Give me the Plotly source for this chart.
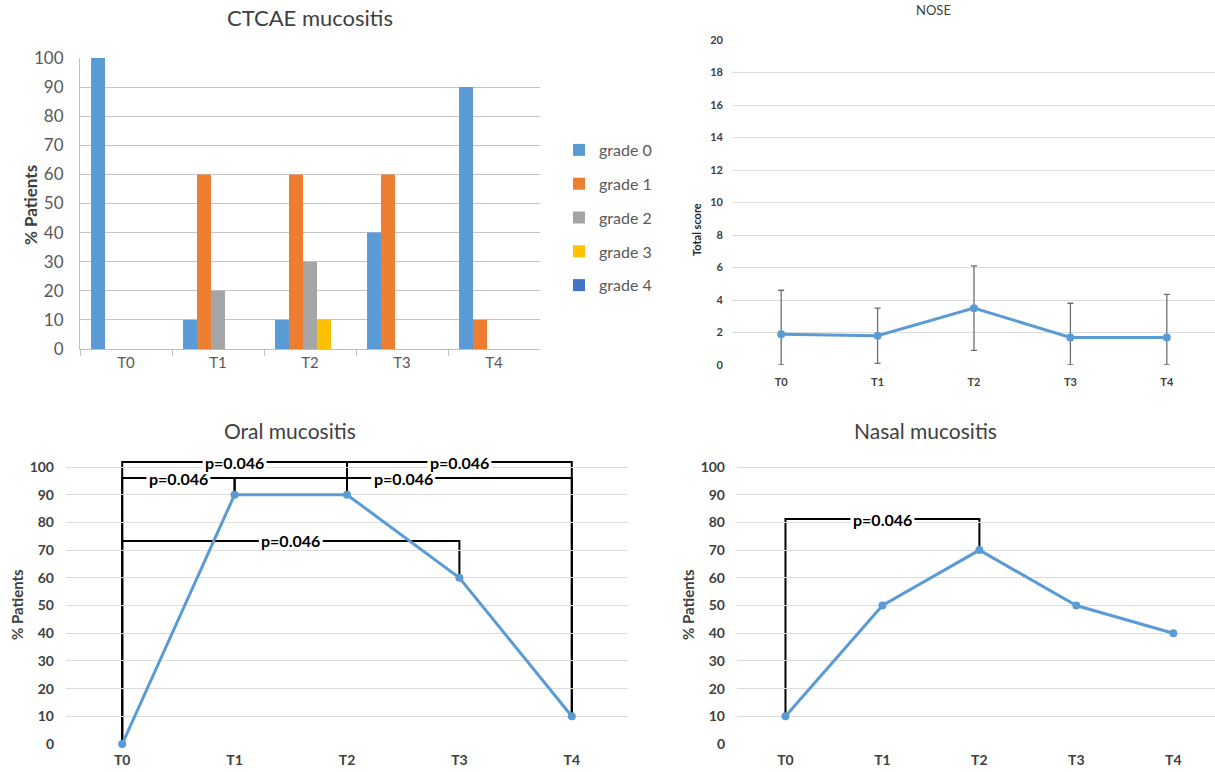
import plotly.graph_objects as go

W, H = 1215, 772

# ---------------- data ----------------
timepoints = ["T0", "T1", "T2", "T3", "T4"]
grade_names = ["grade 0", "grade 1", "grade 2", "grade 3", "grade 4"]
grade0_pct = [100, 10, 10, 40, 90]
grade1_pct = [0, 60, 60, 60, 10]
grade2_pct = [0, 20, 30, 0, 0]
grade3_pct = [0, 0, 10, 0, 0]
grade4_pct = [0, 0, 0, 0, 0]
grade_colors = ["#5B9BD5", "#ED7D31", "#A5A5A5", "#FFC000", "#4472C4"]

nose_mean = [1.9, 1.8, 3.5, 1.7, 1.7]
nose_sd = [2.7, 1.7, 2.6, 2.1, 2.65]

oral_pct = [0, 90, 90, 60, 10]
nasal_pct = [10, 50, 70, 50, 40]

# significance brackets: (from index, to index, bracket height, label)
oral_brackets = [(0, 2, 101.8, "p=0.046"), (2, 4, 101.8, "p=0.046"),
                 (0, 1, 96.0, "p=0.046"), (1, 4, 96.0, "p=0.046"),
                 (0, 3, 73.3, "p=0.046")]
nasal_brackets = [(0, 2, 81.2, "p=0.046")]

LINE_BLUE = "#5B9BD5"
FONT = "Lato"
TICK_GREY = "#595959"


def px_x(p):
    return p / W


def px_y(p):
    return 1 - p / H


# bottom panels: 0 at y=744 px, 100 at y=467 px; range extended above 100
B_TOP = 106
B_BOTTOM_PX = 744
B_SCALE = (744 - 467) / 100
b_top_px = B_BOTTOM_PX - B_SCALE * B_TOP

fig = go.Figure()

# ---------------- CTCAE bars ----------------
for name, vals, col in zip(grade_names,
                           [grade0_pct, grade1_pct, grade2_pct, grade3_pct, grade4_pct],
                           grade_colors):
    fig.add_trace(go.Bar(x=timepoints, y=vals, name=name, marker_color=col,
                         marker_line_width=0, legendgroup=name,
                         xaxis="x", yaxis="y"))

# ---------------- NOSE ----------------
idx = list(range(len(timepoints)))
fig.add_trace(go.Scatter(
    x=idx, y=nose_mean, mode="lines+markers", showlegend=False,
    line=dict(color=LINE_BLUE, width=3), marker=dict(size=8, color=LINE_BLUE),
    error_y=dict(type="data", array=nose_sd,
                 arrayminus=[min(s, m) for s, m in zip(nose_sd, nose_mean)],
                 color="#6e6e6e", thickness=1.3, width=3),
    xaxis="x2", yaxis="y2"))

# ---------------- Oral ----------------
fig.add_trace(go.Scatter(
    x=idx, y=oral_pct, mode="lines+markers", showlegend=False, cliponaxis=False,
    line=dict(color=LINE_BLUE, width=3), marker=dict(size=8, color=LINE_BLUE),
    xaxis="x3", yaxis="y3"))

# ---------------- Nasal ----------------
fig.add_trace(go.Scatter(
    x=idx, y=nasal_pct, mode="lines+markers", showlegend=False, cliponaxis=False,
    line=dict(color=LINE_BLUE, width=3), marker=dict(size=8, color=LINE_BLUE),
    xaxis="x4", yaxis="y4"))

shapes = []
annotations = []


def add_brackets(brackets, values, xr, yr):
    for i0, i1, lvl, lab in brackets:
        path = "M {a},{va} L {a},{l} L {b},{l} L {b},{vb}".format(
            a=i0, va=values[i0], l=lvl, b=i1, vb=values[i1])
        shapes.append(dict(type="path", path=path, xref=xr, yref=yr,
                           line=dict(color="black", width=2), layer="below"))
        mid = (i0 + i1) / 2
        # white patch hiding the bracket line behind the label
        shapes.append(dict(type="rect", xref=xr, yref=yr, layer="above",
                           xsizemode="pixel", xanchor=mid, x0=-32, x1=32,
                           ysizemode="pixel", yanchor=lvl, y0=-6, y1=6,
                           fillcolor="white", line=dict(width=0)))
        annotations.append(dict(x=mid, y=lvl, xref=xr, yref=yr, text=lab,
                                yanchor="middle", showarrow=False,
                                font=dict(family=FONT, size=16, color="black", weight="bold")))


add_brackets(oral_brackets, oral_pct, "x3", "y3")
add_brackets(nasal_brackets, nasal_pct, "x4", "y4")


# titles & axis titles
def ann(text, x, y, size, color="#404040", bold=False, angle=0):
    annotations.append(dict(text=text, x=px_x(x), y=px_y(y), xref="paper", yref="paper",
                            showarrow=False, textangle=angle, xanchor="center", yanchor="middle",
                            font=dict(family=FONT, size=size, color=color,
                                      weight="bold" if bold else "normal")))


ann("CTCAE mucositis", 310, 18, 22)
ann("NOSE", 933, 10, 13)
ann("Oral mucositis", 290, 430, 21)
ann("Nasal mucositis", 925, 430, 21)
ann("% Patients", 30, 205, 17, "#404040", True, -90)
ann("Total score", 697, 230, 11, "#262626", True, -90)
ann("% Patients", 17, 605, 15, "#404040", True, -90)
ann("% Patients", 688, 605, 15, "#404040", True, -90)

LIGHT_GRID = "#dcdcdc"
bold_tick = dict(family=FONT, size=14, color="#404040", weight="bold")

fig.update_layout(
    width=W, height=H, margin=dict(l=0, r=0, t=0, b=0, pad=0, autoexpand=False),
    paper_bgcolor="white", plot_bgcolor="white",
    font=dict(family=FONT),
    barmode="group", bargap=0.24, bargroupgap=0,
    legend=dict(x=px_x(559), y=px_y(133), xanchor="left", yanchor="top",
                font=dict(family=FONT, size=16, color=TICK_GREY),
                tracegroupgap=10, itemwidth=30, bgcolor="rgba(0,0,0,0)"),
    xaxis=dict(domain=[px_x(80), px_x(540)], anchor="y", type="category", automargin=False,
               tickson="boundaries", ticks="outside", ticklen=6, tickcolor="#bfbfbf",
               showline=True, linecolor="#bfbfbf", showgrid=False,
               tickfont=dict(family=FONT, size=15, color=TICK_GREY)),
    yaxis=dict(domain=[px_y(349), px_y(58)], anchor="x", range=[0, 100], dtick=10,
               automargin=False, ticklabelstandoff=12,
               showgrid=True, gridcolor="#c4c4c4", showline=True, linecolor="#bfbfbf",
               zeroline=False, ticks="",
               tickfont=dict(family=FONT, size=17, color=TICK_GREY)),
    xaxis2=dict(domain=[px_x(733), 1.0], anchor="y2", range=[-0.5, 4.5], automargin=False,
                tickvals=idx, ticktext=timepoints, showgrid=False, zeroline=False,
                showline=False, ticks="", ticklabelstandoff=9,
                tickfont=dict(family=FONT, size=11, color="#404040", weight="bold")),
    yaxis2=dict(domain=[px_y(365), px_y(40)], anchor="x2", range=[0, 20], dtick=2,
                automargin=False, ticklabelstandoff=9,
                showgrid=True, gridcolor=LIGHT_GRID, zeroline=False, showline=False,
                ticks="", tickfont=dict(family=FONT, size=11, color="#404040", weight="bold")),
    xaxis3=dict(domain=[px_x(66), px_x(628)], anchor="y3", range=[-0.5, 4.5], automargin=False,
                tickvals=idx, ticktext=timepoints, showgrid=False, zeroline=False,
                showline=False, ticks="", ticklabelstandoff=6, tickfont=bold_tick),
    yaxis3=dict(domain=[px_y(B_BOTTOM_PX), px_y(b_top_px)], anchor="x3", range=[0, B_TOP],
                automargin=False,
                tickvals=list(range(0, 101, 10)), showgrid=True, gridcolor=LIGHT_GRID,
                ticklabelstandoff=11,
                zeroline=False, showline=False, ticks="", tickfont=bold_tick),
    xaxis4=dict(domain=[px_x(737), 1.0], anchor="y4", range=[-0.5, 4.43], automargin=False,
                tickvals=idx, ticktext=timepoints, showgrid=False, zeroline=False,
                showline=False, ticks="", ticklabelstandoff=6, tickfont=bold_tick),
    yaxis4=dict(domain=[px_y(B_BOTTOM_PX), px_y(b_top_px)], anchor="x4", range=[0, B_TOP],
                automargin=False,
                tickvals=list(range(0, 101, 10)), showgrid=True, gridcolor=LIGHT_GRID,
                ticklabelstandoff=11,
                zeroline=False, showline=False, ticks="", tickfont=bold_tick),
    shapes=shapes, annotations=annotations,
)

fig.write_html("out.html", config={"displayModeBar": False},
               post_script="document.body.style.margin='0';document.body.style.padding='0';")
